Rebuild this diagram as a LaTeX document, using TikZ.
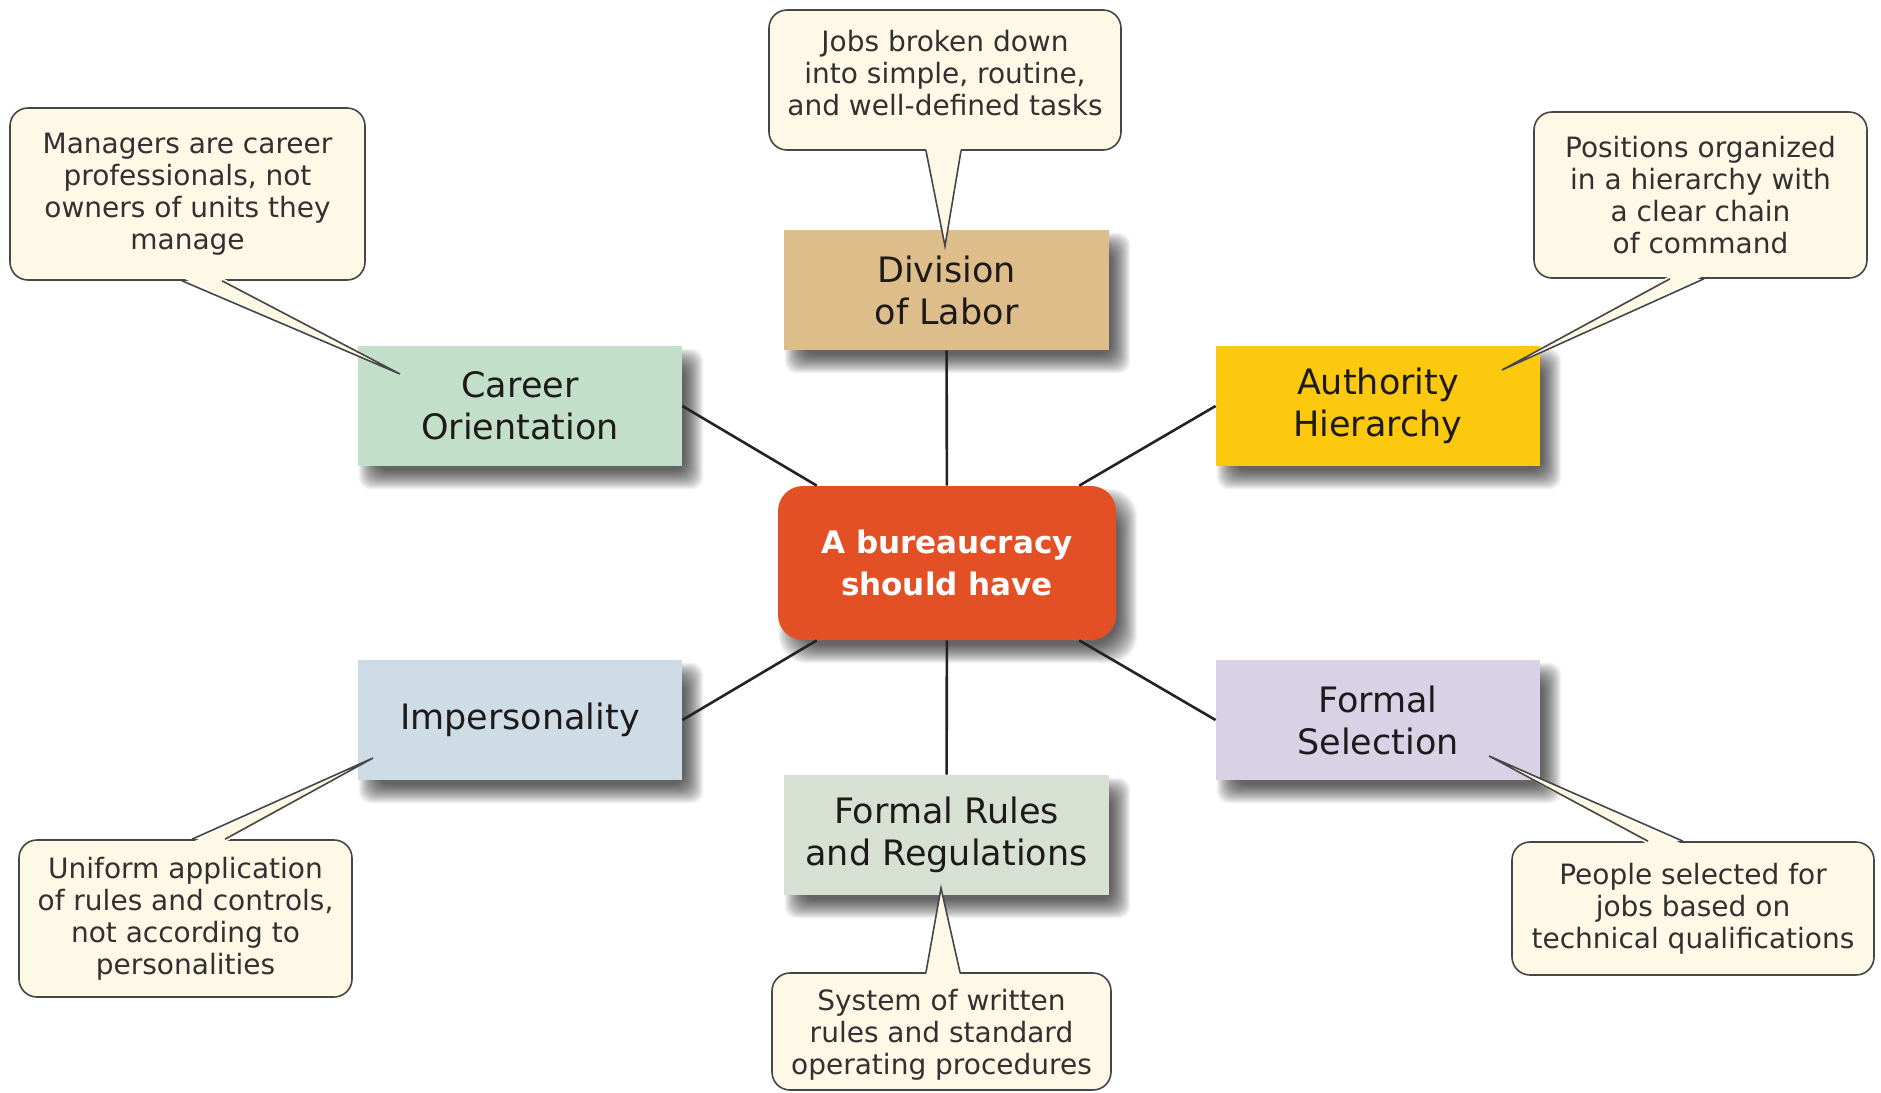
\documentclass[tikz,border=0pt]{standalone}
\usepackage{fontspec}
\setmainfont{DejaVu Sans}
\usetikzlibrary{calc,backgrounds}
\definecolor{divcol}{RGB}{221,189,138}
\definecolor{carcol}{RGB}{194,224,201}
\definecolor{autcol}{RGB}{253,201,14}
\definecolor{cencol}{RGB}{228,80,38}
\definecolor{impcol}{RGB}{206,220,229}
\definecolor{selcol}{RGB}{217,209,230}
\definecolor{rulcol}{RGB}{214,225,212}
\definecolor{creamcol}{RGB}{254,248,231}
\definecolor{edgecol}{RGB}{70,70,70}
\definecolor{inkcol}{RGB}{30,26,26}
\definecolor{notecol}{RGB}{50,48,48}
\definecolor{linecol}{RGB}{35,35,35}
\newcommand\mkpointer[8]{%
  \coordinate (#1A) at ($(#1.#2)+(#3,0)$);
  \coordinate (#1B) at ($(#1.#2)+(#4,0)$);
  \coordinate (#1T) at ($(#6.center)+(#7,#8)$);
  \fill[creamcol] ($(#1A)+(0,#5)$) -- (#1T) -- ($(#1B)+(0,#5)$) -- cycle;
  \draw[ptrline] (#1A) -- (#1T) -- (#1B);
}
\newcommand\softshadow[2]{%
  \foreach \k in {0,...,19}{%
    \fill[shadowlayer, rounded corners=#2]
      ($(#1.north west)+(\k+1,\k+3)$) rectangle ($(#1.south east)+(21-\k,23-\k)$);
  }%
}
\begin{document}
\begin{tikzpicture}[x=0.5pt,y=-0.5pt,
  shadowlayer/.style={black, opacity=0.042},
  feature/.style={rectangle, minimum width=162pt, minimum height=60pt, inner sep=0pt,
    align=center, text=inkcol, font=\fontsize{17.5}{21}\selectfont},
  hub/.style={rectangle, rounded corners=12.5pt, minimum width=169pt, minimum height=77pt,
    inner sep=0pt, align=center, fill=cencol, text=white,
    font=\fontsize{15.5}{21}\selectfont\bfseries},
  callout/.style={rectangle, rounded corners=9pt, draw=edgecol, line width=0.8pt,
    fill=creamcol, text=notecol, align=center, inner sep=0pt,
    font=\fontsize{14}{16}\selectfont},
  ptrline/.style={draw=edgecol, line width=0.8pt},
  link/.style={draw=linecol, line width=1.3pt}
]
\useasboundingbox (0,0) rectangle (1881,1093);

% feature boxes
\node[feature, fill=divcol, minimum width=162.5pt] (div) at (946.5,290) {Division\\of Labor};
\node[feature, fill=carcol] (car) at (520,406) {Career\\Orientation};
\node[feature, fill=autcol] (aut) at (1378,406) {Authority\\Hierarchy};
\node[feature, fill=impcol] (imp) at (520,720) {Impersonality};
\node[feature, fill=selcol] (sel) at (1378,720) {Formal\\Selection};
\node[feature, fill=rulcol, minimum width=162.5pt] (rul) at (946.5,835) {Formal Rules\\and Regulations};
\node[hub] (hub) at (947,563) {A bureaucracy\\should have};

% soft drop shadows and page background
\begin{pgfonlayer}{background}
  \fill[white] (0,0) rectangle (1881,1093);
  \softshadow{div}{6pt}
  \softshadow{car}{6pt}
  \softshadow{aut}{6pt}
  \softshadow{imp}{6pt}
  \softshadow{sel}{6pt}
  \softshadow{rul}{6pt}
  \softshadow{hub}{14pt}
\end{pgfonlayer}

% connectors
\draw[link] (div) -- (hub);
\draw[link] (rul) -- (hub);
\draw[link] (car.east) -- (hub);
\draw[link] (aut.west) -- (hub);
\draw[link] (imp.east) -- (hub);
\draw[link] (sel.west) -- (hub);

% callouts
\node[callout, minimum width=176pt, minimum height=70pt, text depth=7pt] (cdiv) at (945,80)
  {Jobs broken down\\into simple, routine,\\and well-defined tasks};
\node[callout, minimum width=177.5pt, minimum height=86pt] (ccar) at (187.5,194)
  {Managers are career\\professionals, not\\owners of units they\\manage};
\node[callout, minimum width=166.5pt, minimum height=83pt] (caut) at (1700.5,195)
  {Positions organized\\in a hierarchy with\\a clear chain\\of command};
\node[callout, minimum width=166.5pt, minimum height=78.5pt] (cimp) at (185.5,918.5)
  {Uniform application\\of rules and controls,\\not according to\\personalities};
\node[callout, minimum width=181pt, minimum height=66.5pt] (csel) at (1693,908.5)
  {People selected for\\jobs based on\\technical qualifications};
\node[callout, minimum width=169.5pt, minimum height=58.5pt, text depth=0pt] (crul) at (941.5,1031.5)
  {System of written\\rules and standard\\operating procedures};

% callout pointers
\mkpointer{cdiv}{south}{-19}{16}{-3}{div}{-1.5}{-44}
\mkpointer{ccar}{south}{-5.5}{34.5}{-3}{car}{-120}{-32}
\mkpointer{caut}{south}{-30.5}{3.5}{-3}{aut}{124}{-36}
\mkpointer{cimp}{north}{6.5}{39.5}{3}{imp}{-147}{38}
\mkpointer{csel}{north}{-45}{-10}{3}{sel}{111}{36}
\mkpointer{crul}{north}{-15.5}{18.5}{3}{rul}{-5.5}{53}
\end{tikzpicture}
\end{document}
